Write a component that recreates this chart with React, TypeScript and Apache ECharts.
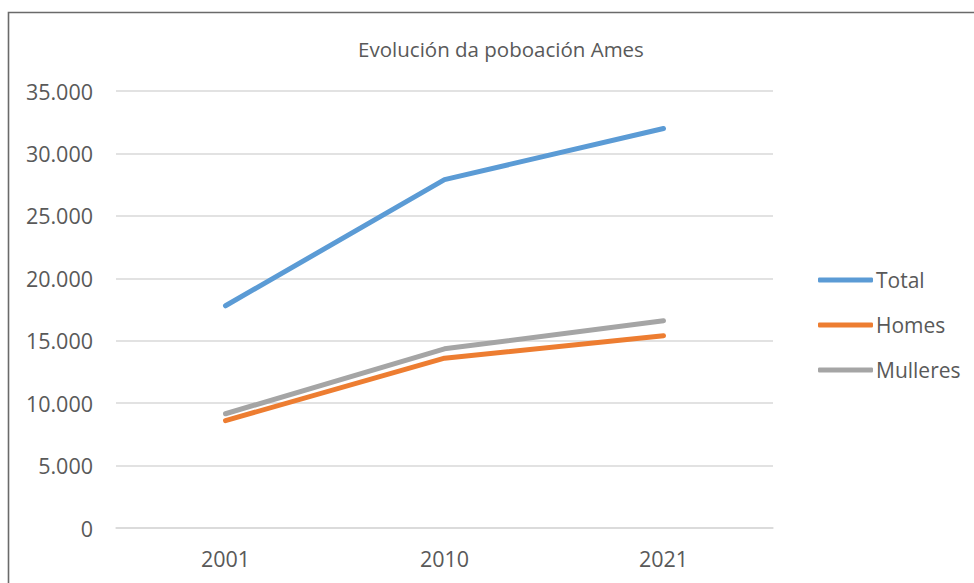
import React, { useEffect, useRef } from "react";
import * as echarts from "echarts";

const categories = ["2001", "2010", "2021"];
const seriesNames = ["Total", "Homes", "Mulleres"];
const totalValues = [17800, 27900, 32000];
const homesValues = [8600, 13600, 15400];
const mulleresValues = [9150, 14350, 16600];
const colors = ["#5B9BD5", "#ED7D31", "#A5A5A5"];

const FONT = "'Open Sans', 'Noto Sans', sans-serif";

export default function App() {
  const ref = useRef<HTMLDivElement>(null);
  useEffect(() => {
    if (!ref.current) return;
    const chart = echarts.init(ref.current, null, { renderer: "svg" });
    const values = [totalValues, homesValues, mulleresValues];
    chart.setOption({
      animation: false,
      backgroundColor: "#ffffff",
      title: {
        text: "Evolución da poboación Ames",
        left: 496,
        textAlign: "center",
        top: 33,
        textStyle: { fontFamily: FONT, fontSize: 20.5, fontWeight: "normal", color: "#595959" },
      },
      graphic: [
        {
          type: "rect",
          shape: { x: 8.5, y: 12.5, width: 1100, height: 800 },
          style: { fill: "none", stroke: "#6a6a6a", lineWidth: 1.6 },
          silent: true,
        },
      ],
      legend: {
        orient: "vertical",
        left: 813,
        top: 263,
        icon: "roundRect",
        itemWidth: 55,
        itemHeight: 5,
        itemGap: 21,
        data: seriesNames,
        textStyle: { fontFamily: FONT, fontSize: 21, color: "#595959", lineHeight: 24, padding: [0, 0, 0, -2] },
      },
      grid: { left: 116, right: 201, top: 91, bottom: 55 },
      xAxis: {
        type: "category",
        data: categories,
        boundaryGap: true,
        axisLine: { show: true, lineStyle: { color: "#d9d9d9", width: 1.5 } },
        axisTick: { show: false },
        axisLabel: { fontFamily: FONT, fontSize: 21.5, color: "#595959", margin: 19 },
      },
      yAxis: {
        type: "value",
        min: 0,
        max: 35000,
        interval: 5000,
        axisLine: { show: false },
        axisTick: { show: false },
        splitLine: { lineStyle: { color: "#d9d9d9", width: 1.5 } },
        axisLabel: {
          fontFamily: FONT,
          fontSize: 21.5,
          color: "#595959",
          margin: 23,
          formatter: (v: number) => v.toLocaleString("de-DE"),
        },
      },
      series: seriesNames.map((name, i) => ({
        name,
        type: "line",
        data: values[i],
        symbol: "none",
        color: colors[i],
        lineStyle: { width: 5, color: colors[i], cap: "round", join: "round" },
      })),
    });
    return () => chart.dispose();
  }, []);
  return (
    <div
      ref={ref}
      style={{ position: "absolute", left: 0, top: 0, width: 974, height: 583 }}
    />
  );
}
